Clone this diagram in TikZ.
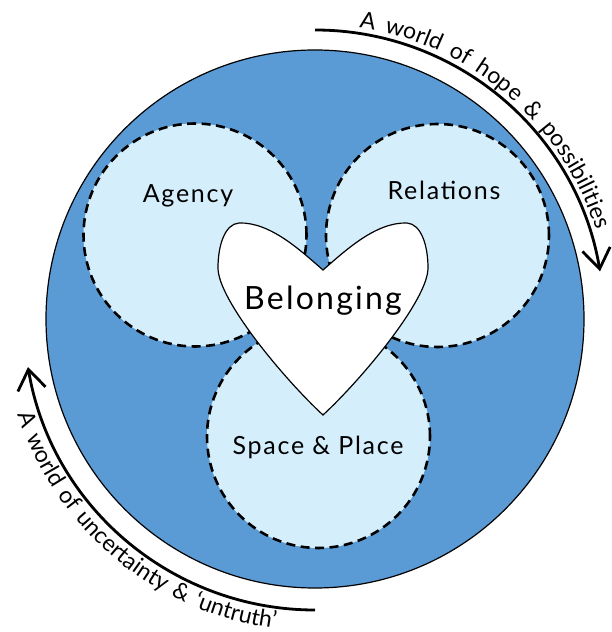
\documentclass[tikz,border=0pt]{standalone}
\usepackage{fontspec}
\setmainfont{Lato}
\usetikzlibrary{arrows.meta,decorations.text}
\definecolor{outerblue}{HTML}{5B9BD5}
\definecolor{innerblue}{HTML}{D5EEFB}
% size and letter spacing of a wide sans setting
\newcommand\wideset[2]{\fontsize{#1}{#1}\selectfont\addfontfeature{LetterSpace=#2}}

\begin{document}
\begin{tikzpicture}[x=1pt,y=1pt,
  ring/.style={circle, fill=outerblue, draw=black, line width=1.2pt,
    minimum size=538pt, inner sep=0pt},
  theme/.style={circle, fill=innerblue, draw=black, line width=2.6pt,
    dash pattern=on 9pt off 5.5pt, minimum size=223pt, inner sep=0pt},
  themetext/.style={font=\wideset{25}{7}, anchor=base},
  flow/.style={line width=2.8pt, -{Straight Barb[length=20pt,width=28pt]}},
  flowtext/.style={decorate,
    decoration={text along path, text align=center, text={#1}}},
]
\useasboundingbox (0,0) rectangle (611,632);
\coordinate (c) at (315,313);

% outer world and the three overlapping themes
\node[ring] (world) at (c) {};
\node[theme] (agency) at (195,397) {};
\node[theme] (relations) at (437.5,396.5) {};
\node[theme] (space) at (318.5,195.5) {};

% heart in the middle
\draw[fill=white, line width=1.2pt]
  (323,362) .. controls (300,382) and (270,410) .. (239,409)
  .. controls (225,408) and (218,387) .. (218,364)
  .. controls (218,332) and (285,252) .. (323,217)
  .. controls (361,252) and (428,332) .. (428,364)
  .. controls (428,387) and (421,408) .. (407,409)
  .. controls (376,410) and (346,382) .. (323,362) -- cycle;

\node[themetext] (agencyT) at (188,429) {Agency};
\node[themetext] (relationsT) at (444,432) {Relations};
\node[themetext] (spaceT) at (318,177) {Space \& Place};
\node[themetext, font=\wideset{32}{7}] (belongT) at (323,322) {Belonging};

% the two flows around the world
\draw[flow] ([shift={(90:289)}]c) arc[start angle=90, end angle=9.5, radius=289];
\draw[flow] ([shift={(270:291)}]c) arc[start angle=270, end angle=189.5, radius=291];

{\wideset{23}{18}
\path[flowtext={A world of hope {\&} possibilities}]
  ([shift={(91:295)}]c) arc[start angle=91, end angle=8, radius=295];
}
{\wideset{23}{10}
\path[flowtext={A world of uncertainty {\&} {‘}untruth{’}}]
  ([shift={(190:312)}]c) arc[start angle=190, end angle=270.6, radius=312];
}
\end{tikzpicture}
\end{document}
